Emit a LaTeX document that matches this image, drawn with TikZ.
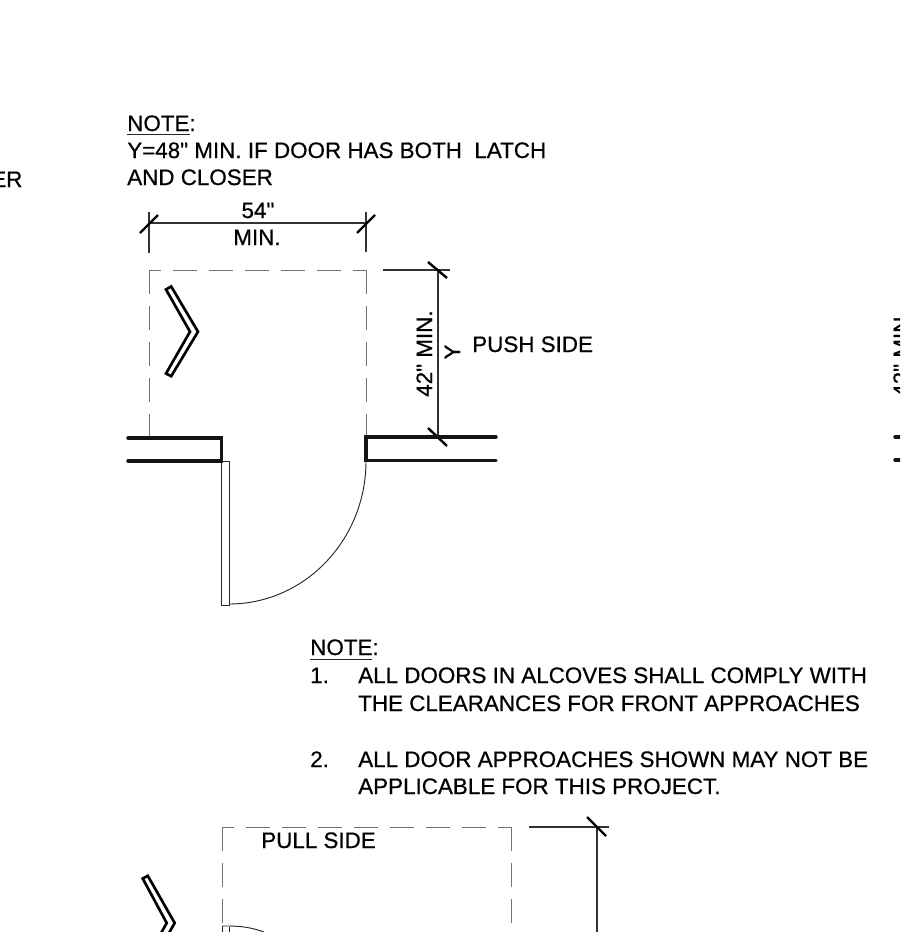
\documentclass[tikz,border=0pt]{standalone}
\usepackage{fontspec}
\newfontfamily\arl[FakeBold=0.6]{Liberation Sans}
\tikzset{
  lbl/.style={inner sep=0pt,anchor=base west,font=\arl\fontsize{16.8pt}{19pt}\selectfont,text=black},
  rlbl/.style={lbl,rotate=90},
  wall/.style={line width=2.6pt,black!92,line cap=round},
  thinln/.style={line width=0.7pt,black!85},
  dim/.style={line width=0.8pt,black!80},
  tick/.style={line width=1.8pt,black},
  dashh/.style={line width=0.7pt,black!55,dash pattern=on 18pt off 9pt,dash phase=9pt},
  dashv/.style={line width=0.7pt,black!55,dash pattern=on 18pt off 9pt},
  chev/.style={line width=2pt,black,fill=white,line join=miter}
}
\begin{document}
\begin{tikzpicture}[x=0.75pt,y=-0.75pt]
\useasboundingbox (0,0) rectangle (900,932);
\clip (0,0) rectangle (900,932);
% texts
\node[lbl] (er) at (-9,187) {ER};
\node[lbl] (note1) at (127,131) {NOTE:};
\node[lbl] (n1a) at (127,158) {Y=48" MIN. IF DOOR HAS BOTH\ \ LATCH};
\node[lbl] (n1b) at (127,185) {AND CLOSER};
\node[lbl,anchor=base] (d54) at (258,218) {54"};
\node[lbl,anchor=base] (dmin) at (257,245) {MIN.};
\node[rlbl] (d42) at (432,397) {42" MIN.};
\node[rlbl,anchor=base] (dy) at (460,352) {Y};
\node[lbl] (push) at (472,352) {PUSH SIDE};
\node[rlbl] (d42b) at (909,397) {42" MIN.};
\node[lbl] (note2) at (310,655) {NOTE:};
\node[lbl] (n1num) at (310,683) {1.};
\node[lbl] (n1l) at (358,683) {ALL DOORS IN ALCOVES SHALL COMPLY WITH};
\node[lbl] (n1m) at (358,711) {THE CLEARANCES FOR FRONT APPROACHES};
\node[lbl] (n2num) at (310,767) {2.};
\node[lbl] (n2l) at (358,767) {ALL DOOR APPROACHES SHOWN MAY NOT BE};
\node[lbl] (n2m) at (358,794) {APPLICABLE FOR THIS PROJECT.};
\node[lbl] (pull) at (261,848) {PULL SIDE};
% note underlines
\draw[thinln] (127,134) -- (190,134);
\draw[thinln] (310,659) -- (372,659);
% upper clearance
\draw[dashh] (149,270) -- (366,270);
\draw[dashv] (149,270) -- (149,437);
\draw[dashv] (366,270) -- (366,437);
% 54 dim
\draw[dim] (149,212) -- (149,253);
\draw[dim] (366,212) -- (366,252);
\draw[dim] (149,223) -- (366,223);
\draw[tick] (140,233) -- (158,215);
\draw[tick] (357,233) -- (375,215);
% chevron
\draw[chev] (166,289.5) -- (171.2,286.5) -- (198,331.7) -- (171.2,376.2) -- (166,373.5) -- (190,331.7) -- cycle;
% 42 dim
\draw[dim] (383,270) -- (450,270);
\draw[dim] (438,270) -- (438,438);
\draw[tick] (428,262) -- (447,278);
\draw[tick] (428,428) -- (447,446);
% walls
\draw[wall] (128,438) -- (221.5,438) -- (221.5,461) -- (128,461);
\draw[wall] (496,437) -- (366,437) -- (366,460.5) -- (496,460.5);
\draw[wall] (895,437) -- (900,437);
\draw[wall] (895,460) -- (900,460);
% door
\draw[thinln] (221.5,461) rectangle (229,605);
\draw[thinln] (229,604) .. controls (304.7,604) and (366,540) .. (366,461);
% lower clearance
\draw[dashh] (222,827) -- (511,827);
\draw[dashv] (222,827) -- (222,926);
\draw[dashv] (511,827) -- (511,932);
\draw[dim] (529,827) -- (609,827);
\draw[dim] (597,827) -- (597,932);
\draw[tick] (587,817) -- (606,836);
\draw[chev] (142.7,878.5) -- (147.8,875.8) -- (174.7,923) -- (147.8,970) -- (142.7,966) -- (166.7,923) -- cycle;
\draw[thinln] (222,926) -- (222,940) (229,927) -- (229,940);
\draw[thinln] (222,926) -- (229,926) .. controls (242,926) and (253,928) .. (264,932);
\end{tikzpicture}
\end{document}
